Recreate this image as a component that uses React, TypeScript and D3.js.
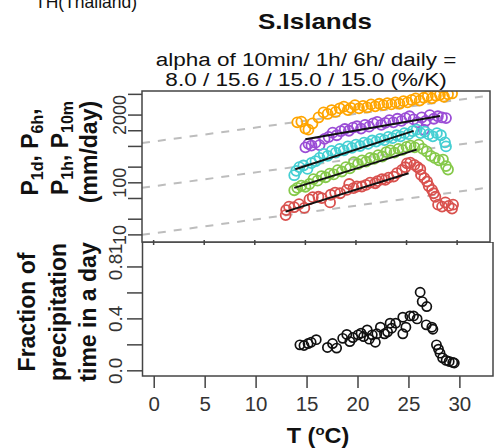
import React from "react";
import * as d3 from "d3";

// labels
const countryLabel = "TH(Thailand)";
const stationName = "S.Islands";
const alphaText = ["alpha of 10min/ 1h/ 6h/ daily =", "8.0 / 15.6 / 15.0 / 15.0 (%/K)"];

// axes
const tempDomain = [-1.15, 33.25];
const tempTicks = [0, 5, 10, 15, 20, 25, 30];
const precipDomain = [7.3, 5800];
const precipTicks = [10, 20, 50, 100, 200, 500, 1000, 2000, 5000];
const precipTickLabels = [10, 100, 2000];
const fracDomain = [-0.04, 1.04];
const fracTicks = [0, 0.2, 0.4, 0.6, 0.8, 1.0];
const fracTickLabels = [0, 0.4, 0.8, 1.0];

// Clausius-Clapeyron guide lines (value at left edge, %/K)
const ccStart = [10, 80, 580];
const ccRate = 6.3;

// series (T, mm/day)
const orangeT = [14.2, 14.6, 15.0, 15.3, 15.7, 16.3, 16.8, 17.2, 17.6, 18.0, 18.4, 18.8, 19.2, 19.5, 19.9, 20.3, 20.7, 21.1, 21.5, 21.9, 22.3, 22.7, 23.1, 23.5, 23.9, 24.3, 24.7, 25.1, 25.5, 25.9, 26.3, 26.7, 27.1, 27.5, 27.9, 28.3, 28.7, 29.1, 29.5];
const orangeV = [1450, 1500, 1100, 1050, 1380, 1800, 2250, 2100, 2500, 2300, 2700, 2900, 2500, 2750, 3100, 2700, 3000, 2800, 3200, 2950, 3300, 3100, 3400, 3200, 3500, 3300, 3700, 3500, 3900, 4200, 3800, 4300, 4600, 4200, 4700, 4900, 4500, 5000, 5200];

const purpleT = [15.0, 15.3, 15.6, 16.0, 16.4, 16.9, 17.3, 17.7, 18.1, 18.5, 18.9, 19.3, 19.7, 20.1, 20.5, 20.9, 21.3, 21.7, 22.1, 22.5, 22.9, 23.3, 23.7, 24.1, 24.5, 24.9, 25.3, 25.7, 26.1, 26.5, 26.7, 26.9, 27.3, 27.7, 28.1, 28.5, 28.9];
const purpleV = [480, 560, 520, 590, 530, 700, 760, 920, 820, 980, 1080, 1000, 1150, 1220, 1100, 1300, 1200, 1380, 1480, 1300, 1420, 1600, 1450, 1700, 1550, 1750, 1900, 1650, 1450, 1800, 1050, 1550, 2000, 1700, 1900, 1800, 1750];

const cyanT = [13.9, 14.1, 14.4, 14.8, 15.2, 15.6, 16.0, 16.4, 16.8, 17.2, 17.6, 18.0, 18.4, 18.8, 19.2, 19.6, 20.0, 20.4, 20.8, 21.2, 21.6, 22.0, 22.4, 22.8, 23.2, 23.6, 24.0, 24.4, 24.8, 25.2, 25.6, 26.0, 26.4, 26.8, 27.2, 27.6, 28.0, 28.4, 28.8, 28.9];
const cyanV = [140, 170, 200, 215, 185, 240, 260, 300, 360, 330, 410, 380, 450, 420, 500, 470, 540, 510, 590, 560, 650, 620, 700, 660, 760, 720, 820, 780, 900, 860, 980, 1050, 900, 960, 850, 780, 900, 820, 600, 500];

const greenT = [13.9, 14.2, 14.6, 15.0, 15.4, 15.8, 16.2, 16.6, 17.0, 17.4, 17.8, 18.2, 18.6, 19.0, 19.4, 19.8, 20.2, 20.6, 21.0, 21.4, 21.8, 22.2, 22.6, 23.0, 23.4, 23.8, 24.2, 24.6, 25.0, 25.4, 25.8, 26.2, 26.6, 27.0, 27.4, 27.8, 28.2, 28.6, 28.9, 29.1];
const greenV = [72, 80, 88, 84, 95, 118, 110, 135, 128, 150, 145, 175, 165, 200, 190, 250, 230, 270, 255, 300, 290, 340, 320, 390, 420, 380, 450, 430, 490, 520, 480, 540, 450, 400, 330, 300, 270, 280, 210, 180];

const redT = [13.05, 13.1, 13.38, 13.88, 14.37, 14.9, 15.4, 15.73, 16.29, 16.62, 17.44, 17.5, 17.94, 18.43, 19.1, 19.33, 19.76, 20.09, 20.58, 21.0, 21.4, 21.9, 22.13, 22.57, 22.9, 23.22, 23.72, 24.05, 24.55, 24.88, 25.04, 25.37, 25.77, 26.1, 26.36, 26.43, 26.76, 27.03, 27.19, 27.52, 27.68, 27.85, 28.12, 28.51, 28.84, 29.17, 29.5, 29.6];
const redV = [24, 30, 35, 34, 39, 33, 48, 53, 54, 51, 42, 59, 65, 63, 73, 95, 79, 85, 85, 91, 101, 98, 108, 117, 114, 126, 132, 153, 177, 199, 237, 244, 221, 199, 182, 142, 123, 106, 87, 73, 63, 54, 38, 35, 42, 36, 32, 38];

const seriesColors = ["#ffa500", "#9b4dd6", "#45cfd3", "#86c94a", "#d9514e"];

// regression fits: start T, end T, value at start, alpha (%/K)
const fitT0 = [15.0, 14.0, 13.9, 13.05];
const fitT1 = [28.3, 25.7, 26.0, 25.2];
const fitV0 = [690, 182, 80, 28];
const fitAlpha = [8.0, 15.6, 15.0, 15.0];

// fraction of precipitation time
const fracT = [14.3, 14.7, 15.1, 15.4, 15.9, 17.0, 17.5, 17.9, 18.5, 18.9, 19.2, 19.5, 20.0, 20.3, 20.55, 20.9, 21.1, 21.4, 21.7, 21.85, 22.2, 22.6, 22.9, 23.15, 23.3, 23.7, 24.4, 24.4, 24.7, 25.1, 25.45, 25.8, 26.1, 26.3, 26.75, 26.7, 27.25, 27.35, 27.7, 27.9, 28.05, 28.3, 28.65, 28.95, 29.3, 29.45];
const fracV = [0.2, 0.195, 0.21, 0.22, 0.24, 0.18, 0.21, 0.175, 0.25, 0.28, 0.225, 0.256, 0.277, 0.29, 0.264, 0.315, 0.244, 0.277, 0.22, 0.285, 0.336, 0.285, 0.3, 0.367, 0.328, 0.367, 0.413, 0.285, 0.336, 0.423, 0.423, 0.4, 0.605, 0.533, 0.495, 0.354, 0.336, 0.32, 0.2, 0.167, 0.136, 0.1, 0.08, 0.072, 0.064, 0.06];

const font = "Liberation Sans, Arial, Helvetica, sans-serif";

export default function App() {
  const xTop = d3.scaleLinear().domain(tempDomain).range([142, 490]);
  const yTop = d3.scaleLog().domain(precipDomain).range([242, 91]);
  const xBot = d3.scaleLinear().domain(tempDomain).range([142.5, 493]);
  const yBot = d3.scaleLinear().domain(fracDomain).range([376, 235.8]);

  const series = [
    [orangeT, orangeV],
    [purpleT, purpleV],
    [cyanT, cyanV],
    [greenT, greenV],
    [redT, redV],
  ];

  const ccLines = ccStart.map(v0 => {
    const t0 = tempDomain[0], t1 = tempDomain[1];
    return [[t0, v0], [t1, v0 * Math.pow(1 + ccRate / 100, t1 - t0)]];
  });

  const fits = fitT0.map((t0, i) => {
    const v1 = fitV0[i] * Math.pow(1 + fitAlpha[i] / 100, fitT1[i] - t0);
    return [[t0, fitV0[i]], [fitT1[i], v1]];
  });

  const lineTop = d3.line<number[]>().x(d => xTop(d[0])).y(d => yTop(d[1]));

  return (
    <svg width={495} height={448} style={{ position: "absolute", left: 0, top: 0 }} fontFamily={font}>
      <defs>
        <clipPath id="topClip"><rect x={142} y={91} width={348} height={151} /></clipPath>
        <clipPath id="botClip"><rect x={0} y={242} width={495} height={206} /></clipPath>
      </defs>
      <rect width={495} height={448} fill="#fff" />

      {/* header */}
      <text x={35} y={8} fontSize={17.5} fill="#111">{countryLabel}</text>
      <text transform="translate(315,29) scale(1,0.85)" fontSize={26} fontWeight="bold" textAnchor="middle" fill="#111">{stationName}</text>
      <text transform="translate(306,66) scale(1,0.82)" fontSize={22.5} textAnchor="middle" fill="#111">{alphaText[0]}</text>
      <text transform="translate(306,86) scale(1,0.82)" fontSize={22.5} textAnchor="middle" fill="#111">{alphaText[1]}</text>

      {/* bottom panel */}
      <g clipPath="url(#botClip)">
        {fracT.map((t, i) => (
          <circle key={i} cx={xBot(t)} cy={yBot(fracV[i])} r={4.6} fill="none" stroke="#111" strokeWidth={1.7} />
        ))}
        <rect x={142.5} y={242} width={350.5} height={134} fill="none" stroke="#444" strokeWidth={1.5} />
        {fracTicks.map(v => (
          <line key={v} x1={127} x2={142.5} y1={yBot(v)} y2={yBot(v)} stroke="#444" strokeWidth={1.5} />
        ))}
        {fracTickLabels.map(v => (
          <text key={v} transform={`translate(121.5,${yBot(v)}) rotate(-90)`} textAnchor="middle" fontSize={19} fill="#333">
            {v.toFixed(1)}
          </text>
        ))}
      </g>
      {tempTicks.map(t => (
        <g key={t}>
          <line x1={xBot(t)} x2={xBot(t)} y1={376} y2={388} stroke="#444" strokeWidth={1.5} />
          <text x={xBot(t)} y={411} textAnchor="middle" fontSize={20.5} fill="#333">{t}</text>
        </g>
      ))}
      <text transform="translate(318,443) scale(1,0.9)" textAnchor="middle" fontSize={23.5} fontWeight="bold" fill="#111">
        T (<tspan dy={-9} fontSize={15}>o</tspan><tspan dy={9}>C)</tspan>
      </text>
      {["Fraction of", "precipitation", "time in a day"].map((s, i) => (
        <text key={s} transform={`translate(${[35, 66, 96][i]},312) rotate(-90)`} textAnchor="middle" fontSize={23} fontWeight="bold" fill="#111">
          {s}
        </text>
      ))}

      {/* top panel */}
      <g clipPath="url(#topClip)">
        {ccLines.map((l, i) => (
          <path key={i} d={lineTop(l) || ""} fill="none" stroke="#bdbdbd" strokeWidth={2} strokeDasharray="8,8" />
        ))}
        {series.map(([ts, vs], s) => (
          <g key={s}>
            {ts.map((t, i) => (
              <circle key={i} cx={xTop(t)} cy={yTop(vs[i])} r={5} fill="none" stroke={seriesColors[s]} strokeWidth={1.8} />
            ))}
          </g>
        ))}
        {fits.map((l, i) => (
          <path key={i} d={lineTop(l) || ""} fill="none" stroke="#111" strokeWidth={2} />
        ))}
      </g>
      <rect x={142} y={91} width={348} height={151} fill="none" stroke="#444" strokeWidth={1.5} />
      {tempTicks.map(t => (
        <line key={t} x1={xTop(t)} x2={xTop(t)} y1={240} y2={245} stroke="#444" strokeWidth={1.5} />
      ))}
      {precipTicks.map(v => (
        <line key={v} x1={128} x2={142} y1={yTop(v)} y2={yTop(v)} stroke="#444" strokeWidth={1.5} />
      ))}
      {precipTickLabels.map(v => (
        <text key={v} transform={`translate(126,${yTop(v)}) rotate(-90)`} textAnchor="middle" fontSize={18} fill="#333">
          {v}
        </text>
      ))}
      <text transform="translate(38,152) rotate(-90)" textAnchor="middle" fontSize={23} fontWeight="bold" fill="#111">
        P<tspan dy={5} fontSize={16}>1d</tspan><tspan dy={-5}>, P</tspan><tspan dy={5} fontSize={16}>6h</tspan><tspan dy={-5}>,</tspan>
      </text>
      <text transform="translate(68,148) rotate(-90)" textAnchor="middle" fontSize={23} fontWeight="bold" fill="#111">
        P<tspan dy={5} fontSize={16}>1h</tspan><tspan dy={-5}>, P</tspan><tspan dy={5} fontSize={16}>10m</tspan>
      </text>
      <text transform="translate(97,152) rotate(-90)" textAnchor="middle" fontSize={23} fontWeight="bold" fill="#111">
        (mm/day)
      </text>
    </svg>
  );
}
